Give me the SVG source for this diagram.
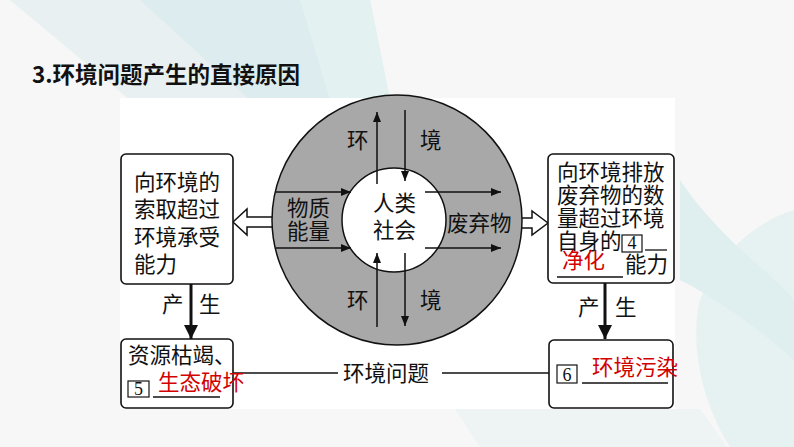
<svg xmlns="http://www.w3.org/2000/svg" width="794" height="447" viewBox="0 0 794 447">
<style>
.t{font-family:"Noto Sans CJK SC","Noto Sans",sans-serif;font-size:21.5px;fill:#111}
.r{font-family:"Noto Sans CJK SC","Noto Sans",sans-serif;font-size:21.5px;fill:#d40000}
.d{font-family:"Liberation Serif",serif;font-size:18px;fill:#111}
.box{fill:#fff;stroke:#111;stroke-width:1.6}
.ln{stroke:#111;stroke-width:1.5;fill:none}
.u{stroke:#111;stroke-width:1.3}
.sq{fill:#fff;stroke:#111;stroke-width:1.2}
</style>
<defs>
<marker id="ah" viewBox="0 0 10 8" refX="10" refY="4" markerWidth="11" markerHeight="8" markerUnits="userSpaceOnUse" orient="auto"><path d="M0,0 L10,4 L0,8 Z" fill="#111"/></marker>
<marker id="ahb" viewBox="0 0 10 10" refX="10" refY="5" markerWidth="14" markerHeight="14" markerUnits="userSpaceOnUse" orient="auto"><path d="M0,0 L10,5 L0,10 Z" fill="#111"/></marker>
</defs>
<!-- background -->
<rect x="0" y="0" width="794" height="447" fill="#f6f7f6"/>
<polygon points="10,0 370,0 390,100 250,100" fill="#dcecef"/>
<polygon points="10,0 140,0 250,100 130,100" fill="#e8f0f1"/>
<polygon points="300,0 370,0 390,100 330,100" fill="#e4f1f1"/>
<path d="M700,300 C720,250 760,220 794,210 L794,447 L730,447 C700,400 690,340 700,300 Z" fill="#e6f1f1"/>
<path d="M680,180 C720,240 780,280 794,300 L794,360 C760,330 720,300 680,280 Z" fill="#dfeeee"/>
<polygon points="455,409 700,409 727,447 480,447" fill="#eef3f4"/>
<rect x="120" y="98" width="555" height="311" fill="#fff"/>
<!-- title -->
<text x="32" y="83" font-family="Noto Sans CJK SC, sans-serif" font-size="22.5" font-weight="bold" fill="#111">3.环境问题产生的直接原因</text>

<g id="connectors">
<polygon points="233,222 247,209 247,217 280,217 280,227 247,227 247,235" fill="#fff" stroke="#111" stroke-width="1.5"/>
<polygon points="548,223 532,211 532,218 515,218 515,228 532,228 532,235" fill="#fff" stroke="#111" stroke-width="1.5"/>
<line x1="191" y1="284" x2="191" y2="339" stroke="#111" stroke-width="3" marker-end="url(#ahb)"/>
<line x1="605" y1="283" x2="605" y2="339" stroke="#111" stroke-width="3" marker-end="url(#ahb)"/>
<line class="ln" x1="233" y1="373" x2="338" y2="373"/>
<line class="ln" x1="442" y1="373" x2="549" y2="373"/>
<text class="t" x="343" y="381" font-size="22">环境问题</text>
<text class="t" x="162" y="312" font-size="20">产</text>
<text class="t" x="199" y="312" font-size="20">生</text>
<text class="t" x="578" y="315" font-size="20">产</text>
<text class="t" x="615" y="315" font-size="20">生</text>
</g>

<g id="circle">
<circle cx="397" cy="220" r="125" fill="#a8a8a8" stroke="#111" stroke-width="1.5"/>
<circle cx="394" cy="220" r="52" fill="#fff" stroke="#111" stroke-width="1.5"/>
<line class="ln" x1="377" y1="184" x2="377" y2="112" marker-end="url(#ah)"/>
<line class="ln" x1="405" y1="110" x2="405" y2="181" marker-end="url(#ah)"/>
<line class="ln" x1="377" y1="327" x2="377" y2="253" marker-end="url(#ah)"/>
<line class="ln" x1="405" y1="253" x2="405" y2="326" marker-end="url(#ah)"/>
<line class="ln" x1="276" y1="192" x2="351" y2="192" marker-end="url(#ah)"/>
<line class="ln" x1="276" y1="248" x2="351" y2="248" marker-end="url(#ah)"/>
<line class="ln" x1="425" y1="192" x2="501" y2="192" marker-end="url(#ah)"/>
<line class="ln" x1="425" y1="248" x2="501" y2="248" marker-end="url(#ah)"/>
<text class="t" x="347" y="148" font-size="20">环</text>
<text class="t" x="420" y="148" font-size="20">境</text>
<text class="t" x="347" y="308" font-size="20">环</text>
<text class="t" x="420" y="308" font-size="20">境</text>
<text class="t" font-size="21"><tspan x="287" y="216">物质</tspan><tspan x="287" y="239">能量</tspan></text>
<text class="t" font-size="21"><tspan x="373" y="211">人类</tspan><tspan x="373" y="238">社会</tspan></text>
<text class="t" x="447" y="231" font-size="21">废弃物</text>
</g>

<g id="box-left">
<rect class="box" x="121" y="154" width="112" height="130" rx="5"/>
<text class="t"><tspan x="134" y="190">向环境的</tspan><tspan x="134" y="217">索取超过</tspan><tspan x="134" y="245">环境承受</tspan><tspan x="134" y="272">能力</tspan></text>
</g>

<g id="box-right">
<rect class="box" x="548" y="154" width="126" height="129" rx="5"/>
<text class="t"><tspan x="557" y="180">向环境排放</tspan><tspan x="557" y="203">废弃物的数</tspan><tspan x="557" y="226">量超过环境</tspan><tspan x="557" y="249">自身的</tspan><tspan x="625" y="272">能力</tspan></text>
<rect class="sq" x="622" y="235" width="20" height="17"/>
<text class="d" x="632" y="249" font-size="16" text-anchor="middle">4</text>
<line class="u" x1="645" y1="250" x2="667" y2="250"/>
<text class="r" x="562" y="268" font-size="20.5">净化</text>
<line class="u" x1="557" y1="277" x2="623" y2="277"/>
</g>

<g id="box-bottom-left">
<rect class="box" x="121" y="339" width="112" height="69" rx="5"/>
<text class="t" x="128" y="363" font-size="21">资源枯竭、</text>
<rect class="sq" x="128" y="381" width="21" height="16"/>
<text class="d" x="138.5" y="395" text-anchor="middle">5</text>
<line class="u" x1="153" y1="397" x2="220" y2="397"/>
<text class="r" x="158" y="390" font-size="22">生态破坏</text>
</g>

<g id="box-bottom-right">
<rect class="box" x="549" y="340" width="124" height="68" rx="5"/>
<rect class="sq" x="557" y="365" width="20" height="18"/>
<text class="d" x="567" y="381" text-anchor="middle">6</text>
<line class="u" x1="582" y1="383" x2="668" y2="383"/>
<text class="r" x="592" y="375" font-size="22">环境污染</text>
</g>
</svg>
